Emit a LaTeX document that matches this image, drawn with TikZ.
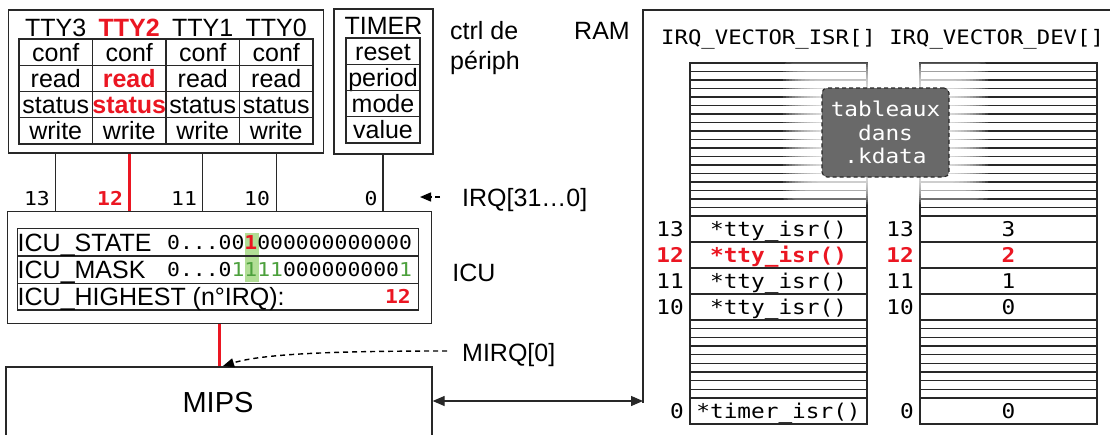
\documentclass[tikz,border=0pt]{standalone}
\usepackage{fontspec}
\setmainfont{Liberation Sans}
\newfontfamily\monof[FakeStretch=1.12]{DejaVu Sans Mono}
\usetikzlibrary{arrows.meta}
\definecolor{myred}{RGB}{235,22,34}
\definecolor{mygreen}{RGB}{76,160,60}
\definecolor{hlgreen}{RGB}{178,222,150}
\definecolor{edge}{RGB}{40,40,40}
\definecolor{kgray}{RGB}{105,105,105}
\newcommand{\txtA}{\fontsize{25}{28}\selectfont}
\newcommand{\txtM}{\fontsize{29}{32}\selectfont}
\newcommand{\monoS}{\monof\fontsize{19.1}{23}\selectfont}
\newcommand{\monoR}{\monof\fontsize{20.3}{23.5}\selectfont}
\newcommand{\monoH}{\monof\fontsize{19.9}{23.5}\selectfont}
\begin{document}
\begin{tikzpicture}[x=1pt,y=-1pt,
  box/.style={draw=edge,line width=1.3pt,inner sep=0pt},
  cell/.style={draw=edge,line width=1.1pt,inner sep=0pt,font=\txtA,text height=18pt,text depth=0pt},
  cellm/.style={draw=edge,line width=1.1pt,inner sep=0pt,font=\monoR,text height=14pt,text depth=0pt},
  lbl/.style={inner sep=0pt,font=\txtA,text height=18pt,text depth=0pt},
  mlbl/.style={inner sep=0pt,font=\monoS,text height=14pt,text depth=0pt},
  rlbl/.style={inner sep=0pt,font=\monoR,text height=14pt,text depth=0pt},
  wire/.style={draw=edge,line width=1.2pt},
  hotwire/.style={draw=myred,line width=3pt},
  dashy/.style={draw=black,line width=1.4pt,dash pattern=on 5pt off 4pt},
  tip/.style={-{Triangle[length=11pt,width=9pt]}}
]
\useasboundingbox (0,0) rectangle (1110,434);
\clip (0,0) rectangle (1110,434);
\fill[white] (0,0) rectangle (1110,434);

% ---------------- TTY block
\node[box,minimum width=315pt,minimum height=143pt] (ttybox) at (165.7,81.5) {};
\node[lbl] (h3) at (55.75,27) {TTY3};
\node[lbl,text=myred,font=\txtA\bfseries] (h2) at (129.25,27) {TTY2};
\node[lbl] (h1) at (202.75,27) {TTY1};
\node[lbl] (h0) at (276.25,27) {TTY0};
\foreach \x/\n in {55.75/3,202.75/1,276.25/0}{
  \foreach \y/\r in {52.1/conf,78.4/read,104.6/status,130.9/write}{
    \node[cell,minimum width=73.5pt,minimum height=26.25pt] (c\n\r) at (\x,\y) {\r};
  }
}
\node[cell,minimum width=73.5pt,minimum height=26.25pt] (c2conf) at (129.25,52.1) {conf};
\node[cell,minimum width=73.5pt,minimum height=26.25pt,text=myred,font=\txtA\bfseries] (c2read) at (129.25,78.4) {read};
\node[cell,minimum width=73.5pt,minimum height=26.25pt,text=myred,font=\txtA\bfseries] (c2status) at (129.25,104.6) {status};
\node[cell,minimum width=73.5pt,minimum height=26.25pt] (c2write) at (129.25,130.9) {write};

% ---------------- TIMER block
\node[box,minimum width=99pt,minimum height=145pt] (timerbox) at (383.5,81.5) {};
\node[lbl] (th) at (383.5,25) {TIMER};
\foreach \y/\r in {51.1/reset,77.4/period,103.6/mode,129.9/value}{
  \node[cell,minimum width=74pt,minimum height=26.25pt] (t\r) at (383,\y) {\r};
}

\node[lbl,anchor=west,align=left] (ctrl) at (450,30) {ctrl de};
\node[lbl,anchor=west] (periph) at (450,60) {périph};
\node[lbl] (ram) at (602,30) {RAM};

% ---------------- ICU block
\node[box,minimum width=424.4pt,minimum height=111.6pt] (icu) at (219.5,267.5) {};
\fill[hlgreen] (245,233) rectangle (259,282);
\node[box,line width=1.1pt,minimum width=401pt,minimum height=27.7pt] (r1) at (217.8,242.15) {};
\node[box,line width=1.1pt,minimum width=401pt,minimum height=27.3pt] (r2) at (217.8,269.65) {};
\node[box,line width=1.1pt,minimum width=401pt,minimum height=26.7pt] (r3) at (217.8,296.65) {};
\node[inner sep=0pt,font=\txtA,anchor=base west] (s1) at (17.5,251) {ICU\_STATE};
\node[inner sep=0pt,font=\monoS,anchor=base west] (b1) at (167,249) {0...00\textcolor{myred}{\bfseries 1}000000000000};
\node[inner sep=0pt,font=\txtA,anchor=base west] (s2) at (17.5,278.5) {ICU\_MASK};
\node[inner sep=0pt,font=\monoS,anchor=base west] (b2) at (167,276.5) {0...0\textcolor{mygreen}{1111}000000000\textcolor{mygreen}{1}};
\node[inner sep=0pt,font=\txtA,anchor=base west] (s3) at (17.5,305.5) {ICU\_HIGHEST (n°IRQ):};
\node[inner sep=0pt,font=\monoS\bfseries,text=myred,anchor=base east] (b3) at (411,303.5) {12};
\node[lbl] (icul) at (474,272) {ICU};

% ---------------- IRQ wires
\draw[wire] (c3write |- ttybox.south) -- (c3write |- icu.north);
\draw[hotwire] (c2write |- ttybox.south) -- (c2write |- icu.north);
\draw[wire] (c1write |- ttybox.south) -- (c1write |- icu.north);
\draw[wire] (c0write |- ttybox.south) -- (c0write |- icu.north);
\draw[wire] (tvalue |- timerbox.south) -- (tvalue |- icu.north);
\node[mlbl] (n13) at (37,198) {13};
\node[mlbl,font=\monoS\bfseries,text=myred] (n12) at (110,198) {12};
\node[mlbl] (n11) at (184,198) {11};
\node[mlbl] (n10) at (257,198) {10};
\node[mlbl] (n0) at (371,198) {0};

\node[lbl,anchor=west] (irq) at (462,197) {IRQ[31…0]};
\coordinate (irqs) at (440,197);
\coordinate (irqe) at (420,197);
\draw[dashy,tip] (irqs) -- (irqe);

% ---------------- MIPS
\node[box,minimum width=426pt,minimum height=80pt] (mips) at (219,407) {};
\node[inner sep=0pt,font=\txtM] (mipst) at (218,403) {MIPS};
\draw[hotwire] (icu.south) -- (icu.south |- mips.north);
\node[lbl,anchor=west] (mirq) at (462,352) {MIRQ[0]};
\coordinate (mirqs) at (447,351);
\coordinate (mirqe) at (223,366);
\draw[dashy,tip] (mirqs) .. controls (330,351) and (262,354) .. (mirqe);

% ---------------- RAM
\coordinate (ramw) at (643,401);
\draw[box] (1120,10) -- (643,10) -- (643,403);
\draw[line width=1.3pt,draw=edge,{Triangle[length=12pt,width=10pt]}-{Triangle[length=12pt,width=10pt]}] (ramw -| mips.east) -- (ramw);
\node[inner sep=0pt,font=\monoH,anchor=base west] (hdr) at (661,44) {IRQ\_VECTOR\_ISR[] IRQ\_VECTOR\_DEV[]};

\foreach \L in {690,920}{
  \draw[draw=edge,line width=1.1pt] (\L,63) rectangle (\L+177,424);
  \foreach \k in {1,...,17}{
    \draw[draw=edge,line width=1.1pt] (\L,{63+8.5*\k}) -- ++(177,0);
  }
  \foreach \k in {1,...,8}{
    \draw[draw=edge,line width=1.1pt] (\L,{320+8.667*\k}) -- ++(177,0);
  }
}
\node[cellm,minimum width=177pt,minimum height=26pt] (isr13) at (778.5,229) {*tty\_isr()};
\node[cellm,minimum width=177pt,minimum height=26pt,text=myred,font=\monoR\bfseries] (isr12) at (778.5,255) {*tty\_isr()};
\node[cellm,minimum width=177pt,minimum height=26pt] (isr11) at (778.5,281) {*tty\_isr()};
\node[cellm,minimum width=177pt,minimum height=26pt] (isr10) at (778.5,307) {*tty\_isr()};
\node[cellm,minimum width=177pt,minimum height=26pt] (isr0) at (778.5,411) {*timer\_isr()};
\node[cellm,minimum width=177pt,minimum height=26pt] (dev13) at (1008.5,229) {3};
\node[cellm,minimum width=177pt,minimum height=26pt,text=myred,font=\monoR\bfseries] (dev12) at (1008.5,255) {2};
\node[cellm,minimum width=177pt,minimum height=26pt] (dev11) at (1008.5,281) {1};
\node[cellm,minimum width=177pt,minimum height=26pt] (dev10) at (1008.5,307) {0};
\node[cellm,minimum width=177pt,minimum height=26pt] (dev0) at (1008.5,411) {0};
\foreach \X/\p in {684/i,914/d}{
  \node[rlbl,anchor=east] (\p13) at (\X,229) {13};
  \node[rlbl,anchor=east,text=myred,font=\monoR\bfseries] (\p12) at (\X,255) {12};
  \node[rlbl,anchor=east] (\p11) at (\X,281) {11};
  \node[rlbl,anchor=east] (\p10) at (\X,307) {10};
  \node[rlbl,anchor=east] (\p0) at (\X,411) {0};
}

% glow + kdata box
\foreach \r in {3,6,...,39}{
  \fill[white,opacity=0.13,rounded corners=8pt] (822-\r,{88-0.7*\r}) rectangle (949+\r,{177+0.7*\r});
}
\node[fill=kgray,draw=edge,line width=1.1pt,dash pattern=on 4pt off 3pt,rounded corners=5pt,
      minimum width=127pt,minimum height=89pt,inner sep=0pt,text=white,align=center,
      font=\monoR] (kdata) at (885.5,132.5) {tableaux\\dans\\.kdata};
\end{tikzpicture}
\end{document}
